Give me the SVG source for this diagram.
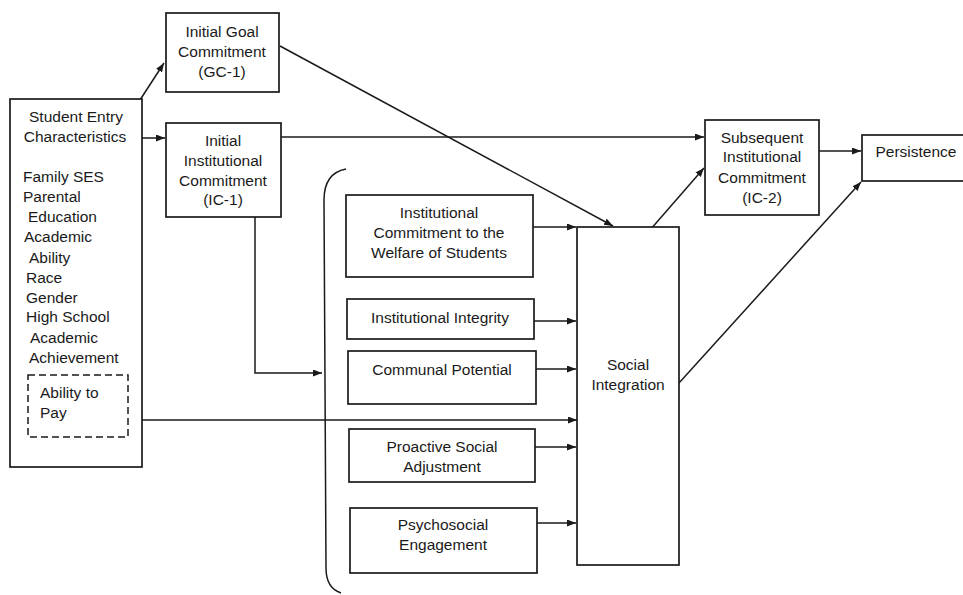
<svg xmlns="http://www.w3.org/2000/svg" width="963" height="595" viewBox="0 0 963 595">
  <style>
    .box { fill: #fff; stroke: #1a1a1a; stroke-width: 1.7; }
    .dash { fill: none; stroke: #1a1a1a; stroke-width: 1.5; stroke-dasharray: 7 4; }
    .wire { fill: none; stroke: #1a1a1a; stroke-width: 1.5; }
    .arr { marker-end: url(#head); }
    text { font-family: "Liberation Sans", Arial, sans-serif; font-size: 15.5px; fill: #1a1a1a; }
    .c { text-anchor: middle; }
  </style>
  <defs>
    <marker id="head" markerUnits="userSpaceOnUse" markerWidth="10" markerHeight="8" refX="9" refY="3.5" orient="auto">
      <path d="M0,0 L9,3.5 L0,7 z" fill="#1a1a1a"/>
    </marker>
  </defs>
  <rect width="963" height="595" fill="#fff"/>

  <!-- connectors -->
  <g id="connectors">
    <path class="wire arr" d="M140,100 L164,63"/>
    <path class="wire arr" d="M142,138 L165,138"/>
    <path class="wire arr" d="M281,137 L704,137"/>
    <path class="wire arr" d="M280,46 L613,226"/>
    <path class="wire arr" d="M255,217 L255,373 L322,373"/>
    <path class="wire arr" d="M128,420 L577,420"/>
    <path class="wire arr" d="M533,227 L576,227"/>
    <path class="wire arr" d="M534,321 L576,321"/>
    <path class="wire arr" d="M536,369 L576,369"/>
    <path class="wire arr" d="M535,447 L576,447"/>
    <path class="wire arr" d="M537,523 L576,523"/>
    <path class="wire arr" d="M650,230 L704,168"/>
    <path class="wire arr" d="M819,151 L861,151"/>
    <path class="wire arr" d="M679,383 L861,182"/>
    <!-- bracket enclosing the institutional factors -->
    <path class="wire" d="M346,169 C330,172 324,184 324,200 L326,568 C326,582 332,590 341,593"/>
  </g>

  <g id="entry">
    <rect class="box" x="10" y="99" width="132" height="368"/>
    <text class="c" x="76" y="122">Student Entry</text>
    <text class="c" x="75" y="142">Characteristics</text>
    <text x="23" y="182">Family SES</text>
    <text x="23" y="202">Parental</text>
    <text x="28" y="222">Education</text>
    <text x="24" y="242">Academic</text>
    <text x="29" y="263">Ability</text>
    <text x="26" y="283">Race</text>
    <text x="26" y="303">Gender</text>
    <text x="26" y="322">High School</text>
    <text x="30" y="343">Academic</text>
    <text x="29" y="363">Achievement</text>
  </g>

  <g id="pay">
    <rect class="dash" x="28" y="375" width="100" height="62"/>
    <text x="40" y="398">Ability to</text>
    <text x="40" y="418">Pay</text>
  </g>

  <g id="gc1">
    <rect class="box" x="166" y="13" width="113" height="79"/>
    <text class="c" x="222" y="37">Initial Goal</text>
    <text class="c" x="222" y="57">Commitment</text>
    <text class="c" x="222" y="77">(GC-1)</text>
  </g>

  <g id="ic1">
    <rect class="box" x="166" y="123" width="115" height="94"/>
    <text class="c" x="223" y="146">Initial</text>
    <text class="c" x="223" y="166">Institutional</text>
    <text class="c" x="223" y="186">Commitment</text>
    <text class="c" x="223" y="205">(IC-1)</text>
  </g>

  <g id="welfare">
    <rect class="box" x="346" y="195" width="187" height="82"/>
    <text class="c" x="439" y="218">Institutional</text>
    <text class="c" x="439" y="238">Commitment to the</text>
    <text class="c" x="439" y="258">Welfare of Students</text>
  </g>

  <g id="integrity">
    <rect class="box" x="347" y="299" width="187" height="40"/>
    <text class="c" x="440" y="323">Institutional Integrity</text>
  </g>

  <g id="communal">
    <rect class="box" x="348" y="351" width="188" height="53"/>
    <text class="c" x="442" y="375">Communal Potential</text>
  </g>

  <g id="proactive">
    <rect class="box" x="349" y="429" width="186" height="53"/>
    <text class="c" x="442" y="452">Proactive Social</text>
    <text class="c" x="442" y="472">Adjustment</text>
  </g>

  <g id="psychosocial">
    <rect class="box" x="350" y="508" width="187" height="65"/>
    <text class="c" x="443" y="530">Psychosocial</text>
    <text class="c" x="443" y="550">Engagement</text>
  </g>

  <g id="social">
    <rect class="box" x="577" y="227" width="102" height="338"/>
    <text class="c" x="628" y="370">Social</text>
    <text class="c" x="628" y="390">Integration</text>
  </g>

  <g id="ic2">
    <rect class="box" x="705" y="120" width="114" height="95"/>
    <text class="c" x="762" y="143">Subsequent</text>
    <text class="c" x="762" y="162">Institutional</text>
    <text class="c" x="762" y="183">Commitment</text>
    <text class="c" x="762" y="203">(IC-2)</text>
  </g>

  <g id="persistence">
    <rect class="box" x="862" y="135" width="110" height="46"/>
    <text class="c" x="916" y="157">Persistence</text>
  </g>
</svg>
